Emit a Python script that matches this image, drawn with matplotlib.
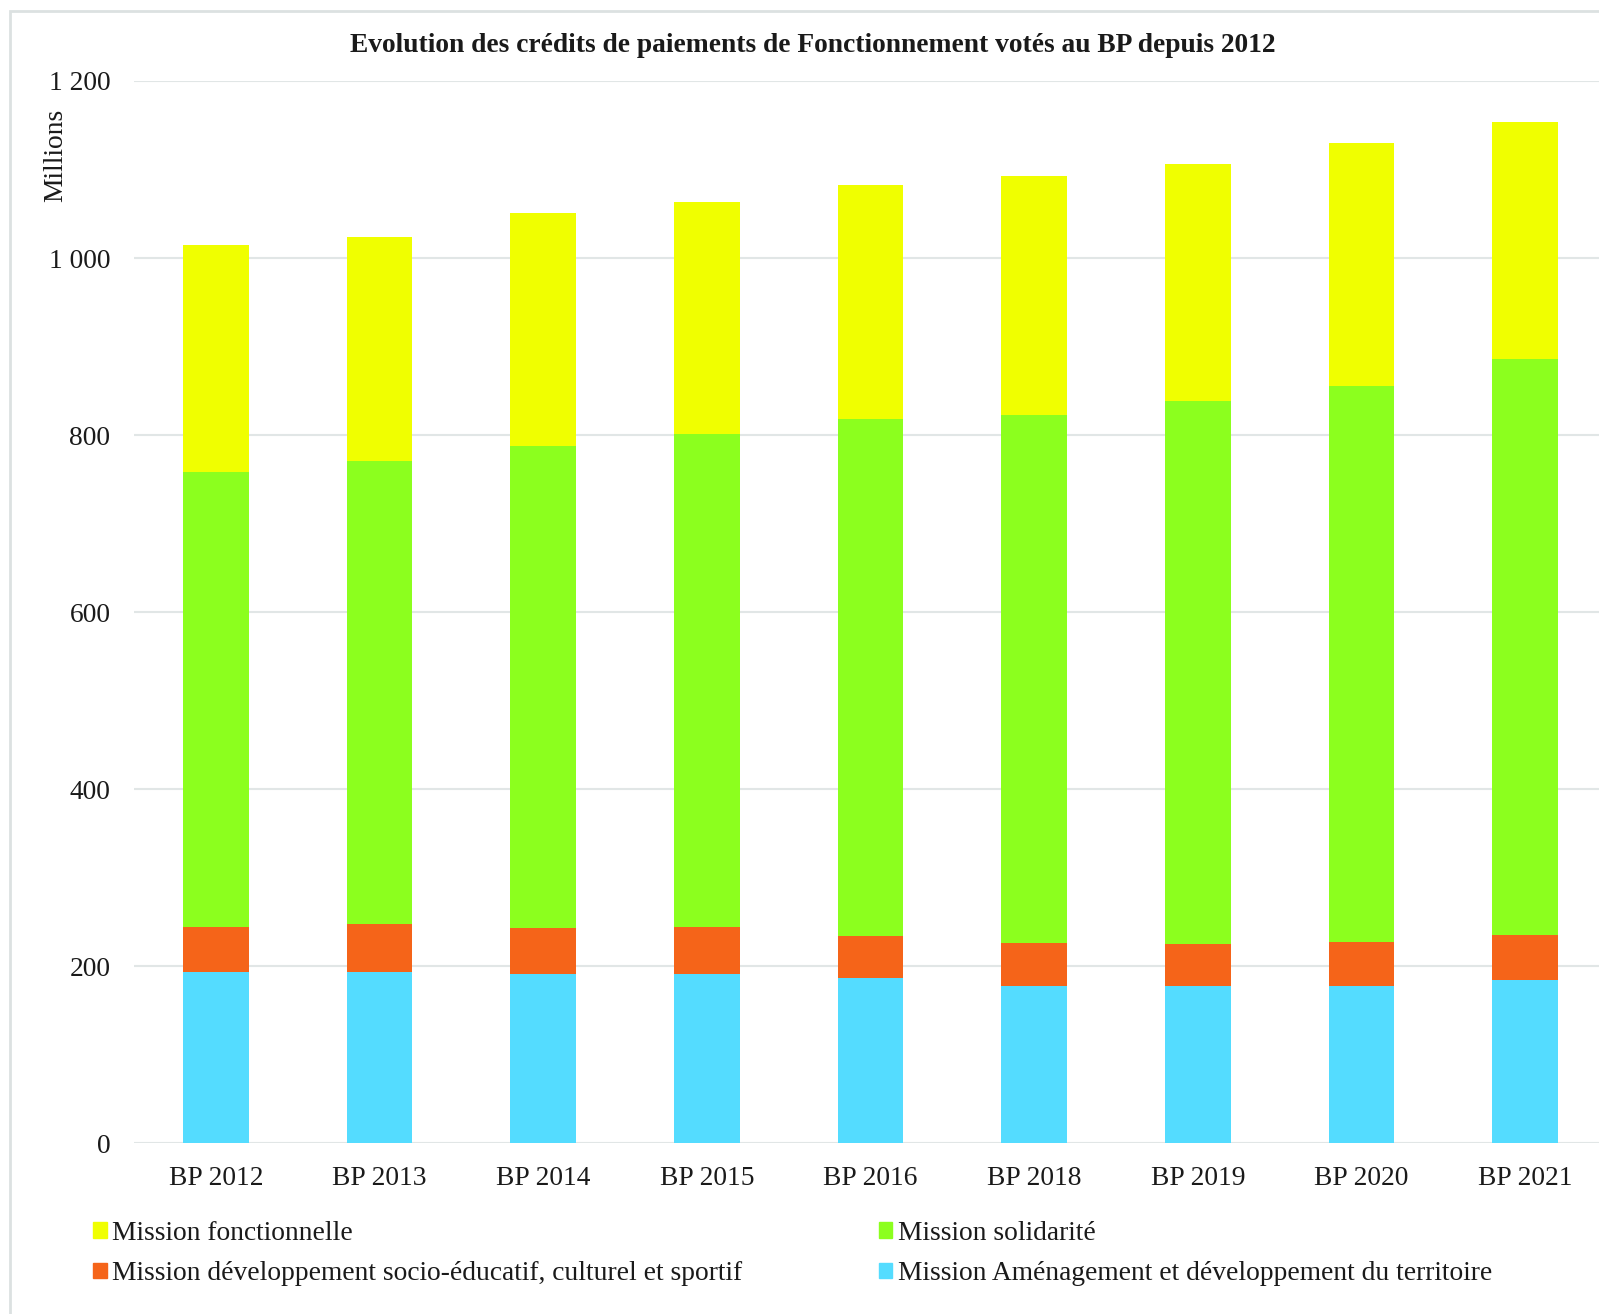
import numpy as np
import matplotlib
matplotlib.use("Agg")
import matplotlib.pyplot as plt
import matplotlib.patches as mpatches
from matplotlib.ticker import FuncFormatter

plt.rcParams['font.family'] = ['Liberation Serif', 'DejaVu Serif']

# donnees (millions d'euros)
categories = ["BP 2012", "BP 2013", "BP 2014", "BP 2015", "BP 2016",
              "BP 2018", "BP 2019", "BP 2020", "BP 2021"]
amenagement = [194, 194, 191.5, 191.5, 186.7, 177.6, 177.6, 177.6, 184.4]
socio_educatif = [50, 54, 51.5, 52.5, 47.3, 49, 47.8, 50, 50.6]
solidarite = [514, 522.5, 545, 556.7, 584, 596.3, 612.6, 627.5, 651.5]
fonctionnelle = [256.5, 253, 262.6, 262.3, 264, 270.2, 268, 274.3, 267.5]

c_jaune = '#F0FF00'
c_vert = '#8CFF1E'
c_orange = '#F56419'
c_bleu = '#54DCFF'

fs = 19.8
W, H = 1599, 1314
fig = plt.figure(figsize=(W / 100, H / 100), dpi=100)

# cadre gris (coupe a droite et en bas dans l'original)
fig.patches.append(mpatches.Rectangle((10 / W, -0.1), 1.2, 1 - 11 / H + 0.1,
                                      transform=fig.transFigure, fill=False,
                                      edgecolor='#DCE1E1', linewidth=2))

ax = fig.add_axes([134 / W, 1 - 1143.3 / H, (1607 - 134) / W, (1143.3 - 81) / H])

x = np.arange(len(categories))
b1 = np.array(amenagement)
b2 = b1 + np.array(socio_educatif)
b3 = b2 + np.array(solidarite)

ax.bar(x, amenagement, 0.4, color=c_bleu, zorder=3)
ax.bar(x, socio_educatif, 0.4, bottom=b1, color=c_orange, zorder=3)
ax.bar(x, solidarite, 0.4, bottom=b2, color=c_vert, zorder=3)
ax.bar(x, fonctionnelle, 0.4, bottom=b3, color=c_jaune, zorder=3)

ax.set_xlim(-0.5, len(categories) - 0.5)
ax.set_ylim(0, 1200)
ax.set_yticks(np.arange(0, 1201, 200))
ax.yaxis.set_major_formatter(FuncFormatter(lambda v, p: f"{int(v):,}".replace(",", " ")))
ax.set_xticks(x)
ax.set_xticklabels(categories)
ax.grid(axis='y', color='#E1E6E6', linewidth=1.5, zorder=0)
for s in ax.spines.values():
    s.set_visible(False)
ax.tick_params(axis='both', length=0, labelsize=fs, colors='#1a1a1a')
ax.tick_params(axis='y', pad=17)
ax.tick_params(axis='x', pad=16)

fig.text(813 / W, 1 - 46 / H, "Evolution des crédits de paiements de Fonctionnement votés au BP depuis 2012",
         ha='center', va='center', fontsize=fs, fontweight='bold', color='#1a1a1a')
fig.text(56 / W, 1 - 155 / H, "Millions", rotation=90, ha='center', va='center',
         fontsize=fs, color='#1a1a1a')

handles = [mpatches.Patch(color=c_jaune, label='Mission fonctionnelle'),
           mpatches.Patch(color=c_orange, label='Mission développement socio-éducatif, culturel et sportif'),
           mpatches.Patch(color=c_vert, label='Mission solidarité'),
           mpatches.Patch(color=c_bleu, label='Mission Aménagement et développement du territoire')]
fig.legend(handles=handles, ncol=2, loc='upper left', bbox_to_anchor=(93 / W, 1 - 1221 / H),
           frameon=False, fontsize=fs, handlelength=0.5, handleheight=0.5,
           handletextpad=0.2, columnspacing=4.95, labelspacing=0.55,
           borderpad=0, borderaxespad=0, labelcolor='#1a1a1a')

fig.savefig("out.png", dpi=100)
